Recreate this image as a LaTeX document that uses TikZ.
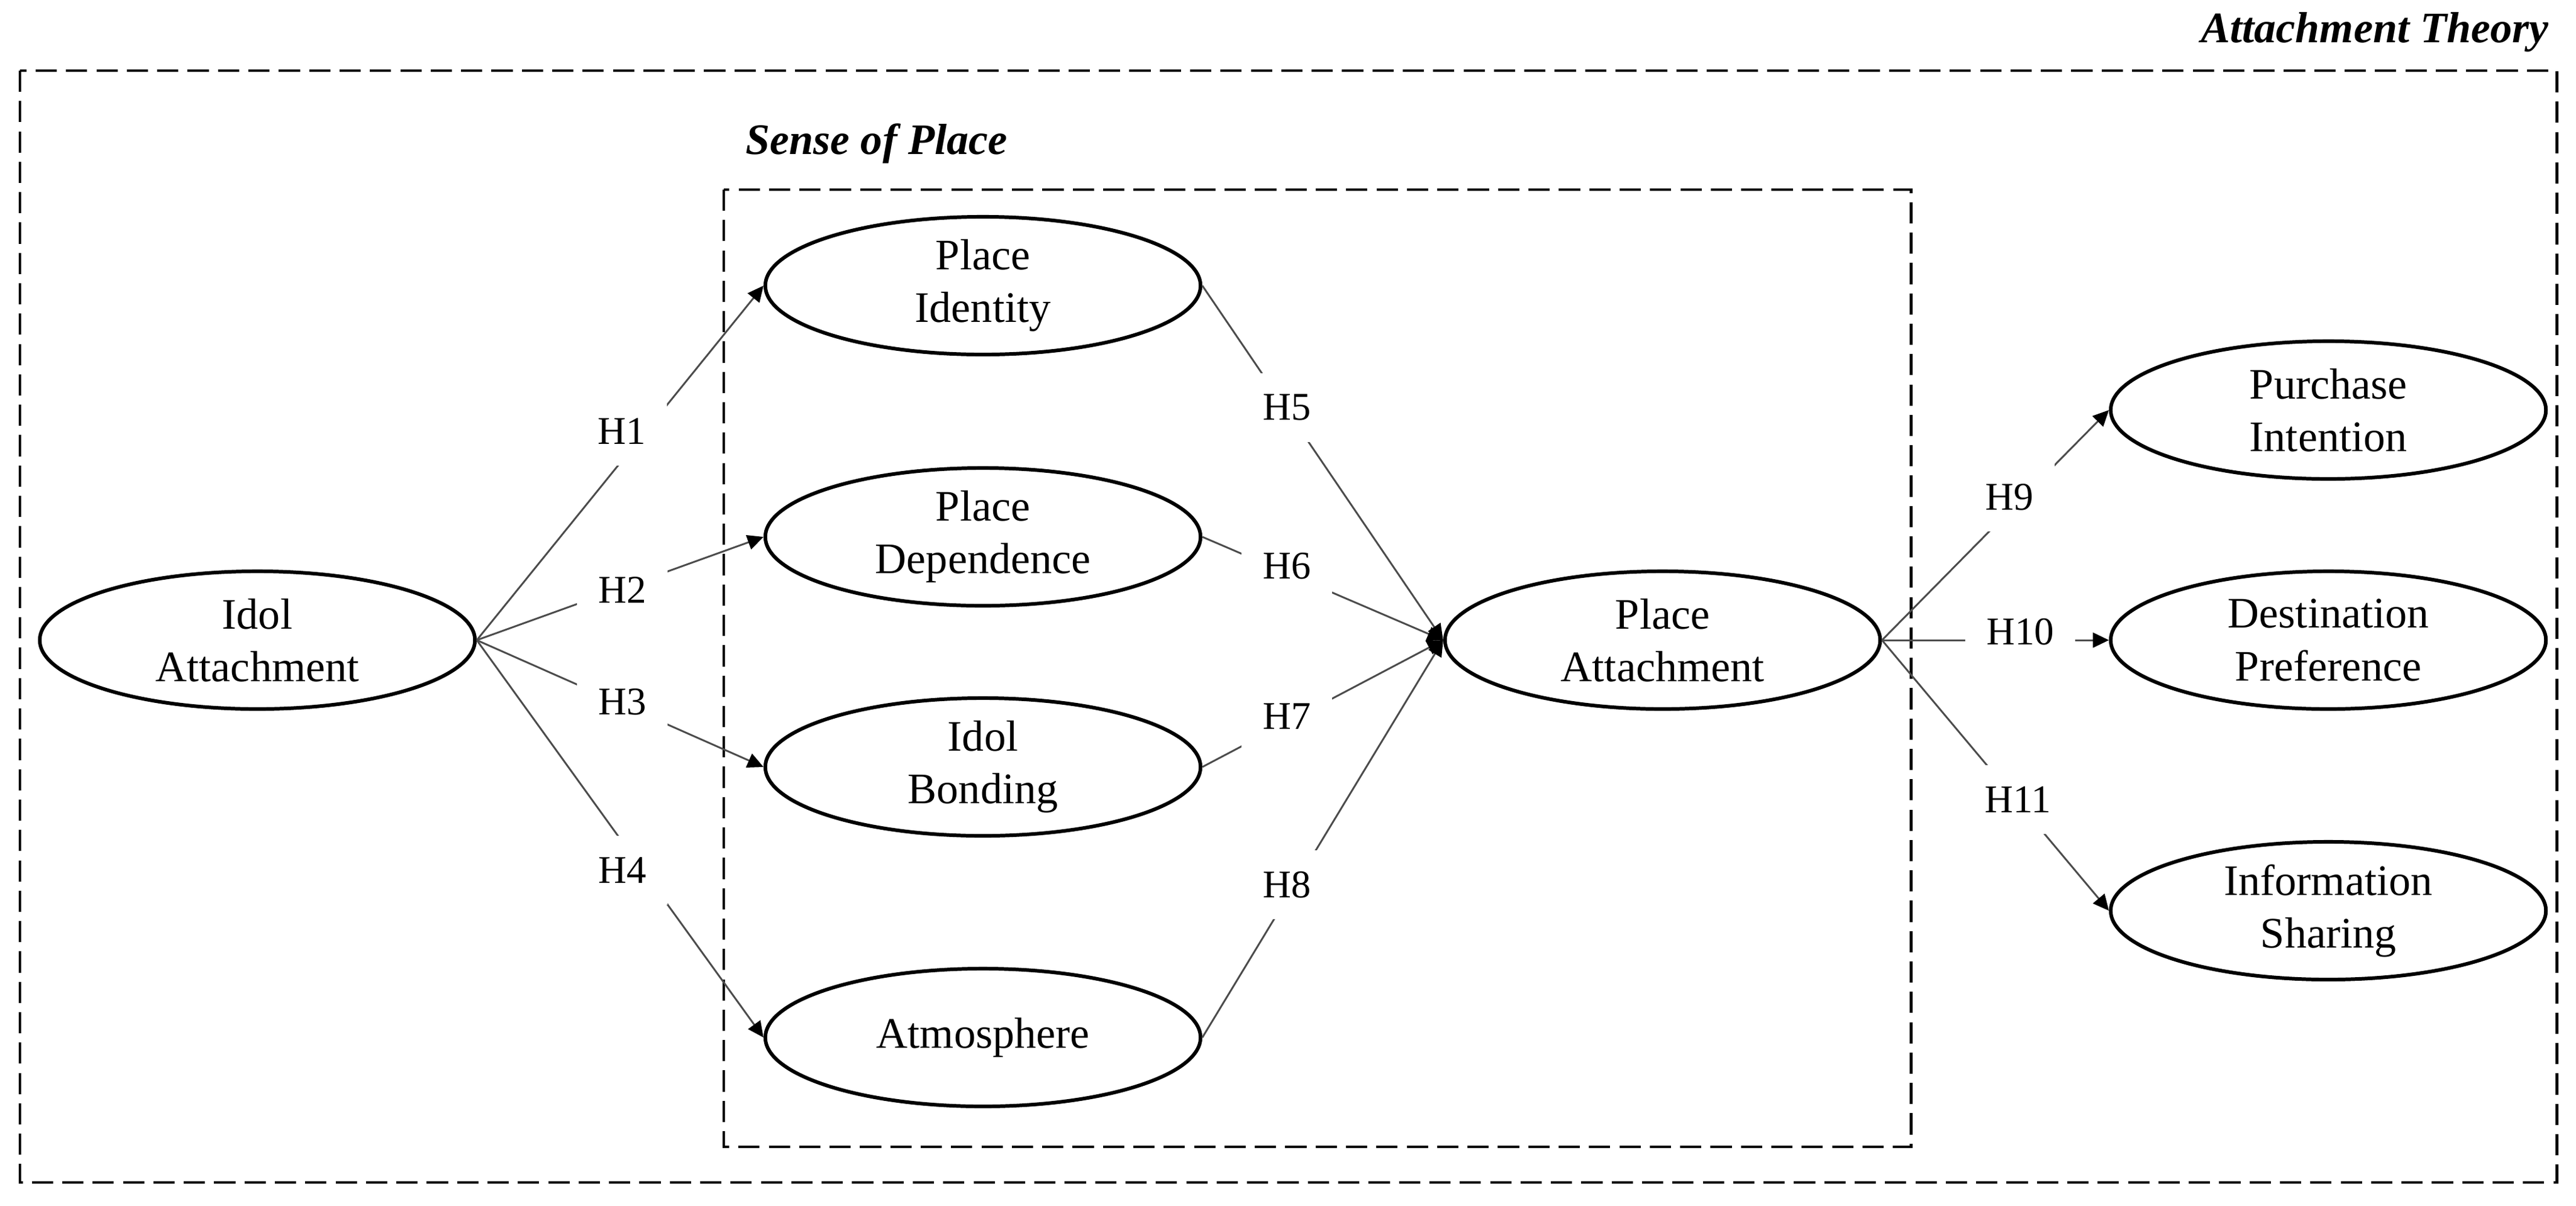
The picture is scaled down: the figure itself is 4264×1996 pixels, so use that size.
\documentclass[tikz,border=0pt]{standalone}
\usepackage{fontspec}
\setmainfont{Liberation Serif}
\usetikzlibrary{shapes.geometric, arrows.meta}
\begin{document}
\begin{tikzpicture}[x=0.01cm, y=-0.01cm,
  construct/.style={ellipse, draw=black, line width=1.7pt, minimum width=7.2cm, minimum height=2.28cm, inner sep=0pt, align=center, font=\fontsize{20.5}{24.8}\selectfont},
  hyp/.style={fill=white, inner xsep=10pt, inner ysep=10pt, font=\fontsize{18.5}{22}\selectfont},
  link/.style={draw=black!70, line width=0.85pt, -{Triangle[length=7.5pt,width=7pt,color=black]}},
  frame/.style={draw=black, line width=1.4pt, dash pattern=on 10pt off 4.3pt},
  title/.style={font=\fontsize{20.5}{24}\selectfont\bfseries\itshape, inner sep=0pt}]

\useasboundingbox (0,0) rectangle (4264,1996);

% frames
\draw[frame] (33,117) rectangle (4232,1958);
\draw[frame] (1198,314) rectangle (3163,1899);
\node[title, anchor=base east] (tAT) at (4219,70) {Attachment Theory};
\node[title, anchor=base west] (tSP) at (1234,255) {Sense of Place};

% constructs
\node[construct] (IA) at (426,1060) {Idol\\Attachment};
\node[construct] (PI) at (1627,473) {Place\\Identity};
\node[construct] (PD) at (1627,889) {Place\\Dependence};
\node[construct] (IB) at (1627,1270) {Idol\\Bonding};
\node[construct] (AT) at (1627,1718) {Atmosphere};
\node[construct] (PA) at (2752,1060) {Place\\Attachment};
\node[construct] (PU) at (3854,679) {Purchase\\Intention};
\node[construct] (DP) at (3854,1060) {Destination\\Preference};
\node[construct] (IS) at (3854,1508) {Information\\Sharing};

% connectors
\draw[link] (IA.east) -- (PI.west);
\draw[link] (IA.east) -- (PD.west);
\draw[link] (IA.east) -- (IB.west);
\draw[link] (IA.east) -- (AT.west);
\draw[link] (PI.east) -- (PA.west);
\draw[link] (PD.east) -- (PA.west);
\draw[link] (IB.east) -- (PA.west);
\draw[link] (AT.east) -- (PA.west);
\draw[link] (PA.east) -- (PU.west);
\draw[link] (PA.east) -- (DP.west);
\draw[link] (PA.east) -- (IS.west);

% hypothesis labels
\node[hyp] (h1) at (1029,714) {H1};
\node[hyp] (h2) at (1030,977) {H2};
\node[hyp] (h3) at (1030,1162) {H3};
\node[hyp] (h4) at (1030,1441) {H4};
\node[hyp] (h5) at (2130,675) {H5};
\node[hyp] (h6) at (2130,937) {H6};
\node[hyp] (h7) at (2130,1186) {H7};
\node[hyp] (h8) at (2130,1465) {H8};
\node[hyp] (h9) at (3326,823) {H9};
\node[hyp] (h10) at (3344,1046) {H10};
\node[hyp] (h11) at (3340,1324) {H11};
\end{tikzpicture}
\end{document}
